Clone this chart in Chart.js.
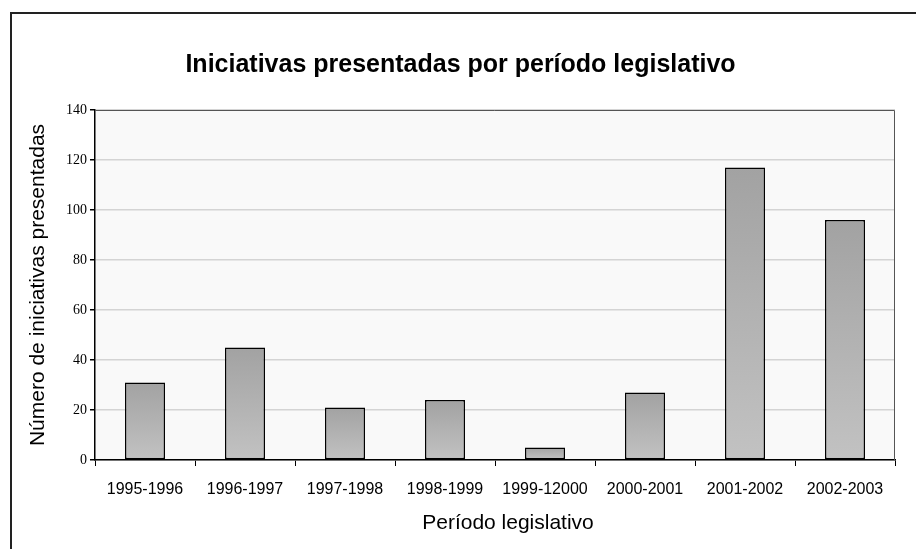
<!DOCTYPE html>
<html>
<head>
<meta charset="utf-8">
<script src="https://cdn.jsdelivr.net/npm/chart.js@4/dist/chart.umd.min.js"></script>
<style>
html,body{margin:0;padding:0;background:#fff;overflow:hidden;}
#frame{position:absolute;left:10px;top:12px;width:1000px;height:1000px;border-left:2px solid #222;border-top:2px solid #222;}
#wrap{position:absolute;left:0;top:0;width:916px;height:549px;}
</style>
</head>
<body>
<div id="frame"></div>
<div id="wrap"><canvas id="c" width="916" height="549"></canvas></div>
<script>
const categories = ["1995-1996","1996-1997","1997-1998","1998-1999","1999-12000","2000-2001","2001-2002","2002-2003"];
const values = [31, 45, 21, 24, 5, 27, 117, 96];
const yTicks = [0, 20, 40, 60, 80, 100, 120, 140];
const xTitle = 'Período legislativo';

const plotBg = {
  id: 'plotBg',
  beforeDraw(chart) {
    const {ctx, chartArea: a} = chart;
    ctx.save();
    ctx.fillStyle = '#f9f9f9';
    ctx.fillRect(a.left, a.top, a.right - a.left, a.bottom - a.top);
    ctx.restore();
  },
  afterDatasetsDraw(chart) {
    const {ctx, chartArea: a} = chart;
    ctx.save();
    ctx.strokeStyle = '#555';
    ctx.lineWidth = 1;
    ctx.beginPath();
    ctx.moveTo(a.left, a.top + 0.5);
    ctx.lineTo(a.right - 0.5, a.top + 0.5);
    ctx.lineTo(a.right - 0.5, a.bottom);
    ctx.stroke();
    ctx.restore();
  },
  afterDraw(chart) {
    const {ctx, chartArea: a} = chart;
    ctx.save();
    ctx.fillStyle = '#000';
    ctx.font = '21px "Liberation Sans", Arial, sans-serif';
    ctx.textAlign = 'center';
    ctx.textBaseline = 'middle';
    ctx.fillText(xTitle, (a.left + a.right) / 2 + 13, 523);
    ctx.restore();
  }
};

new Chart(document.getElementById('c'), {
  type: 'bar',
  data: {
    labels: categories,
    datasets: [{
      data: values,
      backgroundColor: (ctx) => {
        const chart = ctx.chart;
        const y = chart.scales.y;
        if (!y || ctx.raw === undefined) return '#b0b0b0';
        const top = y.getPixelForValue(ctx.raw);
        const bot = y.getPixelForValue(0);
        if (!isFinite(top) || !isFinite(bot) || top === bot) return '#b0b0b0';
        const g = chart.ctx.createLinearGradient(0, top, 0, bot);
        g.addColorStop(0, '#a2a2a2');
        g.addColorStop(1, '#c2c2c2');
        return g;
      },
      borderColor: '#000',
      borderWidth: 1.5,
      borderSkipped: false,
      barPercentage: 0.4,
      categoryPercentage: 1.0
    }]
  },
  options: {
    responsive: false,
    animation: false,
    layout: { padding: { left: 26, right: 21, top: 0, bottom: 14 } },
    plugins: {
      legend: { display: false },
      tooltip: { enabled: false },
      title: {
        display: true,
        text: 'Iniciativas presentadas por período legislativo',
        color: '#000',
        font: { family: 'Liberation Sans, Arial, sans-serif', size: 25, weight: 'bold', lineHeight: 1.2 },
        padding: { top: 50, bottom: 30 }
      }
    },
    scales: {
      x: {
        offset: true,
        grid: { offset: true, drawOnChartArea: false, tickLength: 6, tickColor: '#000', color: '#000' },
        border: { color: '#000', width: 1.5 },
        ticks: { color: '#000', padding: 14, maxRotation: 0, autoSkip: false,
          font: { family: 'Liberation Sans, Arial, sans-serif', size: 16 } },
        title: { display: false },
        afterFit(scale) { scale.height = 75; }
      },
      y: {
        min: 0, max: 140,
        afterBuildTicks(scale) { scale.ticks = yTicks.map(v => ({ value: v })); },
        grid: { color: '#d4d4d4', lineWidth: 1.5, tickLength: 5, tickColor: '#000' },
        border: { color: '#000', width: 1.5 },
        ticks: { color: '#000', padding: 3,
          font: { family: 'Liberation Serif, Times New Roman, serif', size: 14 } },
        title: { display: true, text: 'Número de iniciativas presentadas', color: '#000', padding: 0,
          font: { family: 'Liberation Sans, Arial, sans-serif', size: 21, lineHeight: 1.2 } },
        afterFit(scale) { scale.width = 69; }
      }
    }
  },
  plugins: [plotBg]
});
</script>
</body>
</html>
